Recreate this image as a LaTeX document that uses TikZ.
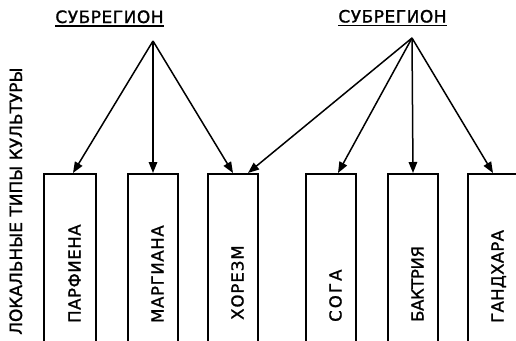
\documentclass[tikz,border=0pt]{standalone}
\usepackage{fontspec}
\setmainfont{DejaVu Sans}[FakeBold=1.2]
\usetikzlibrary{arrows.meta}
\begin{document}
\begin{tikzpicture}[x=1pt,y=-1pt,
  box/.style={draw, line width=1.7pt, minimum width=50pt, minimum height=200pt, anchor=north, inner sep=0pt},
  arr/.style={line width=1.5pt, -{Triangle[length=11pt,width=8.5pt]}},
  lab/.style={rotate=90, anchor=base west, inner sep=0pt, font=\fontsize{16.5}{16.5}\selectfont},
  head/.style={inner sep=0pt, anchor=base, font=\fontsize{17}{17}\selectfont},
  side/.style={rotate=90, anchor=base west, inner sep=0pt, font=\fontsize{17}{17}\selectfont}]
\useasboundingbox (0,0) rectangle (516,340);
\clip (0,0) rectangle (516,340);
\fill[white] (0,0) rectangle (516,340);

% headings
\node[head] (hl) at (109.5,23) {\addfontfeature{LetterSpace=3}СУБРЕГИОН};
\node[head] (hr) at (392.5,22.5) {\addfontfeature{LetterSpace=3}СУБРЕГИОН};
\draw[line width=1.6pt] ([yshift=-3pt]hl.base west) -- ([yshift=-3pt]hl.base east);
\draw[line width=1.6pt] ([yshift=-3pt]hr.base west) -- ([yshift=-3pt]hr.base east);

% apex points
\coordinate (al) at (153,41);
\coordinate (ar) at (412,38);

% boxes
\node[box, minimum width=52pt] (b1) at (70,173) {};
\node[box] (b2) at (153,173) {};
\node[box] (b3) at (233,173) {};
\node[box] (b4) at (331,173) {};
\node[box] (b5) at (413,173) {};
\node[box] (b6) at (493,173) {};

% box labels
\node[lab] (l1) at (80.5,323) {\addfontfeature{LetterSpace=3.5}ПАРФИЕНА};
\node[lab] (l2) at (163.5,323) {\addfontfeature{LetterSpace=4}МАРГИАНА};
\node[lab] (l3) at (243.5,320) {\addfontfeature{LetterSpace=6}ХОРЕЗМ};
\node[lab] (l4) at (341.5,322) {\addfontfeature{LetterSpace=13}СОГА};
\node[lab] (l5) at (423.5,322) {\addfontfeature{LetterSpace=-2.5}БАКТРИЯ};
\node[lab] (l6) at (503.5,323) {\addfontfeature{LetterSpace=2}ГАНДХАРА};

% side label
\node[side] (sd) at (22,335) {ЛОКАЛЬНЫЕ ТИПЫ КУЛЬТУРЫ};

% arrows
\draw[arr] (al) -- ([xshift=3pt]b1.north);
\draw[arr] (al) -- (b2.north);
\draw[arr] (al) -- (b3.north);
\draw[arr] (ar) -- ([xshift=15pt]b3.north);
\draw[arr] (ar) -- ([xshift=7pt]b4.north);
\draw[arr] (ar) -- (b5.north);
\draw[arr] (ar) -- (b6.north);
\end{tikzpicture}
\end{document}
